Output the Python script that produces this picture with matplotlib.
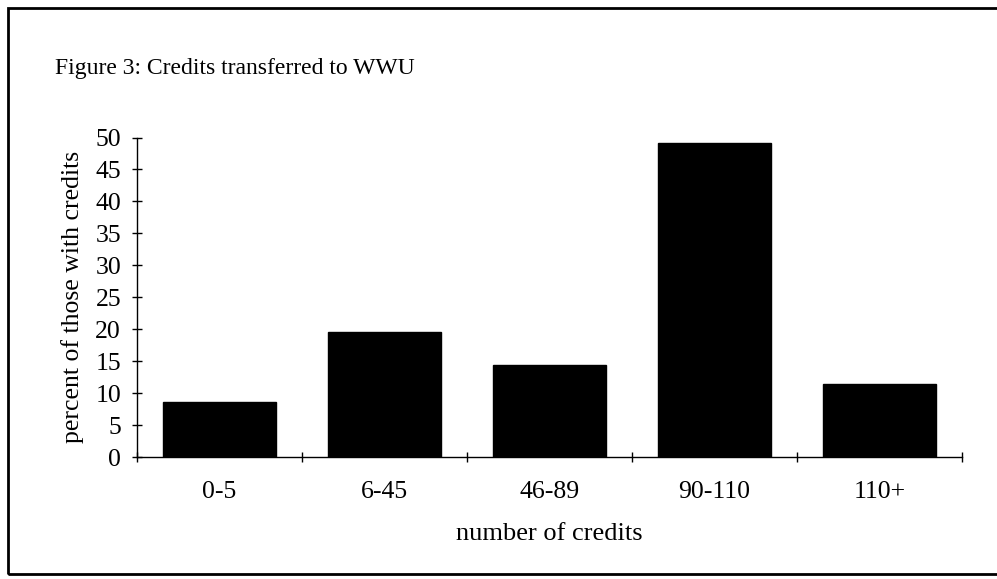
import matplotlib
matplotlib.use("Agg")
import matplotlib.pyplot as plt
from matplotlib.patches import Rectangle
import numpy as np

categories = ["0-5", "6-45", "46-89", "90-110", "110+"]
percents = [8.6, 19.5, 14.4, 49.1, 11.4]
yticks = [0, 5, 10, 15, 20, 25, 30, 35, 40, 45, 50]

plt.rcParams['font.family'] = ['Liberation Serif', 'DejaVu Serif']

fig = plt.figure(figsize=(9.97, 5.79), dpi=100)
ax = fig.add_axes([137/997, 1 - 457/579, (962 - 137)/997, (457 - 137.5)/579])

x = np.arange(len(categories))
ax.bar(x, percents, width=0.68, color='black', edgecolor='black')

ax.set_xlim(-0.5, len(categories) - 0.5)
ax.set_ylim(0, 50)
ax.set_yticks(yticks)
ax.set_xticks(np.arange(len(categories) + 1) - 0.5)
ax.set_xticklabels([])
ax.set_xticks(x, minor=True)
ax.set_xticklabels(categories, minor=True)
ax.tick_params(axis='x', which='minor', length=0, pad=17, labelsize=18.5)
ax.tick_params(axis='x', which='major', direction='inout', length=7, width=1)
ax.tick_params(axis='y', direction='inout', length=7, width=1, labelsize=18.5, pad=8)

for s in ['top', 'right']:
    ax.spines[s].set_visible(False)
ax.spines['left'].set_linewidth(1)
ax.spines['bottom'].set_linewidth(1)

ax.set_ylabel("percent of those with credits", fontsize=18.5, labelpad=8)
ax.set_xlabel("number of credits", fontsize=19, labelpad=15)

fig.text(55/997, 1 - 74/579, "Figure 3: Credits transferred to WWU", fontsize=17,
         ha='left', va='baseline')

# outer frame around the figure
fig.patches.append(Rectangle((8/997, 1 - 574/579), 1.2, (574 - 8)/579,
                             transform=fig.transFigure, fill=False,
                             edgecolor='black', linewidth=2))

fig.savefig("out.png", dpi=100)
